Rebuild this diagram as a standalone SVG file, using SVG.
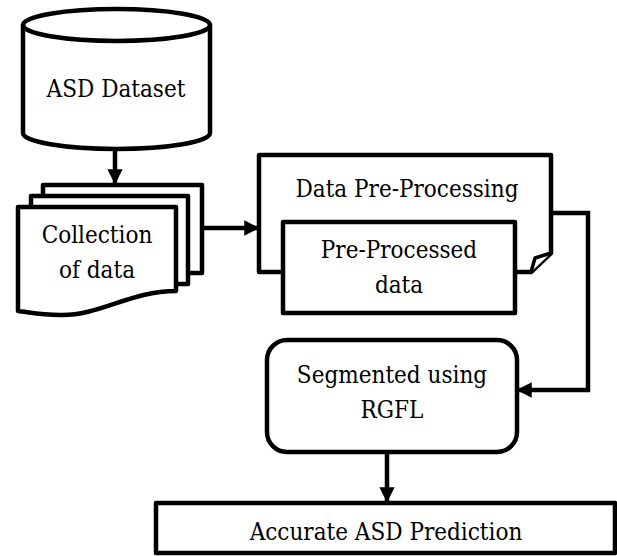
<svg xmlns="http://www.w3.org/2000/svg" width="617" height="556" viewBox="0 0 617 556">
<style>
.s{fill:#fff;stroke:#000;stroke-width:4.5;stroke-linejoin:round}
.c{fill:none;stroke:#000;stroke-width:4.5}
.t{font-family:'DejaVu Serif Condensed','DejaVu Serif',serif;font-stretch:condensed;font-size:24px;fill:#000;text-anchor:middle}
</style>
<defs>
<marker id="ah" viewBox="0 0 10 10" refX="9" refY="5" markerWidth="3.4" markerHeight="3.4" markerUnits="strokeWidth" orient="auto">
<path d="M0,0 L10,5 L0,10 z" fill="#000"/>
</marker>
</defs>
<g id="n1">
<path class="s" d="M23,25 A93.5,16 0 0 1 210,25 L210,133 A93.5,16 0 0 1 23,133 Z"/>
<path class="c" d="M23,25 A93.5,16 0 0 0 210,25"/>
<text class="t" x="116" y="97">ASD Dataset</text>
</g>
<g id="n2">
<rect class="s" x="43" y="185" width="159" height="88"/>
<rect class="s" x="31" y="196" width="157" height="88"/>
<path class="s" d="M18,207 L176,207 L176,291 C130,291 100,316 60,315 C40,315 28,312 18,311 Z"/>
<text class="t" x="97" y="243">Collection</text>
<text class="t" x="97" y="278">of data</text>
</g>
<g id="n3">
<path class="s" d="M259,155 L551,155 L551,253 L531,272 L259,272 Z"/>
<path class="s" d="M531,272 L535,258 L551,253" style="stroke-width:3.5"/>
<text class="t" x="407" y="197">Data Pre-Processing</text>
</g>
<g id="n4">
<rect class="s" x="283" y="222" width="232" height="91"/>
<text class="t" x="399" y="258">Pre-Processed</text>
<text class="t" x="399" y="293">data</text>
</g>
<g id="n5">
<rect class="s" x="267" y="340" width="250" height="112" rx="20" ry="20"/>
<text class="t" x="392" y="383">Segmented using</text>
<text class="t" x="392" y="418">RGFL</text>
</g>
<g id="n6">
<rect class="s" x="156" y="503" width="459" height="50"/>
<text class="t" x="386" y="540">Accurate ASD Prediction</text>
</g>
<g id="connectors">
<path class="c" d="M115,150 L115,183" marker-end="url(#ah)"/>
<path class="c" d="M202,228 L258,228" marker-end="url(#ah)"/>
<path class="c" d="M551,213 L588,213 L588,390 L518,390" marker-end="url(#ah)"/>
<path class="c" d="M387,452 L387,501" marker-end="url(#ah)"/>
</g>
</svg>
